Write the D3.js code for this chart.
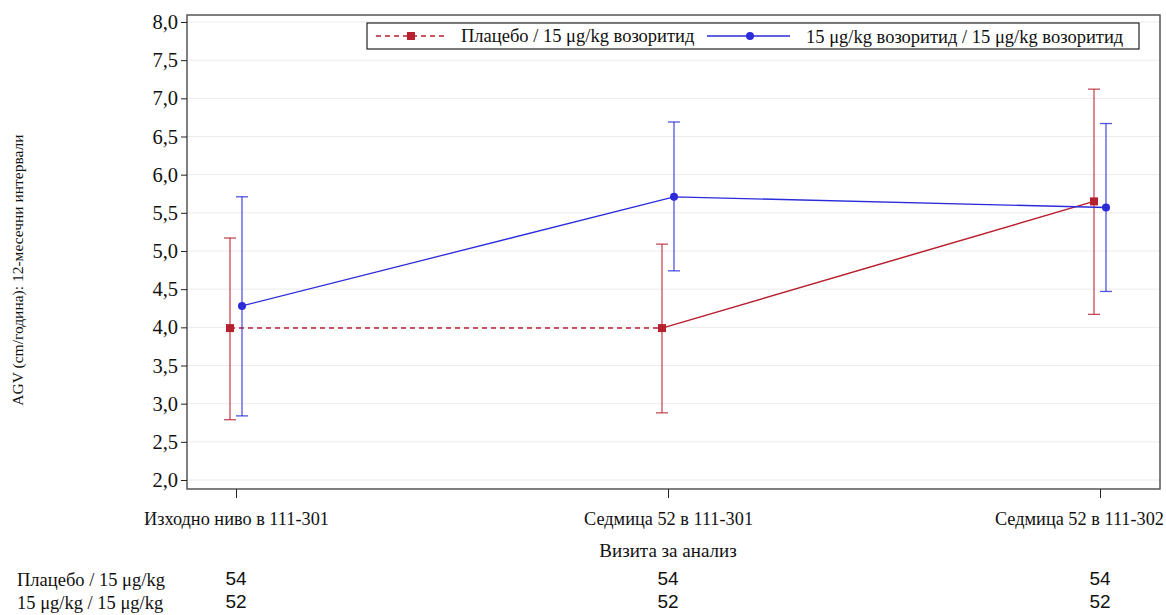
<!DOCTYPE html>
<html>
<head>
<meta charset="utf-8">
<script src="https://cdn.jsdelivr.net/npm/d3@7"></script>
<style>
  body { margin: 0; background: #fff; }
  svg { display: block; }
  text { font-family: "Liberation Serif", "DejaVu Serif", serif; fill: #111; }
</style>
</head>
<body>
<svg id="chart" width="1166" height="615"></svg>
<script>
// visits on the x axis
const visits = ["Изходно ниво в 111-301", "Седмица 52 в 111-301", "Седмица 52 в 111-302"]
const yTicks = [2.0, 2.5, 3.0, 3.5, 4.0, 4.5, 5.0, 5.5, 6.0, 6.5, 7.0, 7.5, 8.0]

// placebo / 15 ug/kg
const placeboMean = [3.99, 3.99, 5.65]
const placeboLow = [2.79, 2.88, 4.17]
const placeboHigh = [5.17, 5.09, 7.12]
const placeboN = [54, 54, 54]

// 15 ug/kg / 15 ug/kg
const vosoMean = [4.28, 5.71, 5.57]
const vosoLow = [2.84, 4.74, 4.47]
const vosoHigh = [5.71, 6.69, 6.67]
const vosoN = [52, 52, 52]

const RED = "#b7202e"
const BLUE = "#2b2bd9"
const SERIF = "Liberation Serif"

const svg = d3.select("#chart")
const plotL = 187, plotR = 1160, plotT = 15, plotB = 489

const x = d3.scalePoint().domain(visits).range([236, 1100])
const y = d3.scaleLinear().domain([2, 8]).range([480, 22])

// grid lines
svg.append("g").selectAll("line").data(yTicks).join("line")
    .attr("x1", plotL).attr("x2", plotR)
    .attr("y1", d => y(d)).attr("y2", d => y(d))
    .attr("stroke", "#ebebeb").attr("stroke-width", 1)

// frame
svg.append("rect")
    .attr("x", plotL).attr("y", plotT)
    .attr("width", plotR - plotL).attr("height", plotB - plotT)
    .attr("fill", "none").attr("stroke", "#555").attr("stroke-width", 1.5)

// y axis
const yAxis = d3.axisLeft(y).tickValues(yTicks).tickSize(6).tickPadding(3)
    .tickFormat(d => d3.format(".1f")(d).replace(".", ","))
const gy = svg.append("g").attr("transform", `translate(${plotL},0)`).call(yAxis)
    .attr("font-family", SERIF).attr("font-size", 20)
gy.select(".domain").remove()
gy.selectAll(".tick line").attr("stroke", "#222")
gy.selectAll("text").style("font-family", SERIF).style("font-size", "20.5px").attr("fill", "#111")

// x axis
const xAxis = d3.axisBottom(x).tickSize(9).tickPadding(14)
const gx = svg.append("g").attr("transform", `translate(0,${plotB})`).call(xAxis)
    .attr("font-family", SERIF).attr("font-size", 18)
gx.select(".domain").remove()
gx.selectAll(".tick line").attr("stroke", "#222")
gx.selectAll("text").style("font-family", SERIF).style("font-size", "18.3px").attr("fill", "#111")
// keep the last label inside the picture
gx.selectAll("text").each(function () {
    const b = this.getBBox()
    const tx = +this.parentNode.getAttribute("transform").match(/translate\(([\d.]+)/)[1]
    const over = tx + b.x + b.width - 1164
    if (over > 0) d3.select(this).attr("x", -over)
})

// axis titles
svg.append("text")
    .attr("transform", "translate(23,270) rotate(-90)")
    .attr("text-anchor", "middle")
    .style("font-size", "15.5px")
    .text("AGV (cm/година): 12-месечни интервали")
svg.append("text")
    .attr("x", 668).attr("y", 557).attr("text-anchor", "middle")
    .style("font-size", "19px")
    .text("Визита за анализ")

function drawSeries(mean, low, high, color, dx) {
    const pts = mean.map((m, i) => ({ x: x(visits[i]) + dx, m: m, lo: low[i], hi: high[i] }))
    const g = svg.append("g")
    // error bars
    pts.forEach(p => {
        g.append("line").attr("x1", p.x).attr("x2", p.x).attr("y1", y(p.lo)).attr("y2", y(p.hi))
            .attr("stroke", color).attr("stroke-width", 1.3).attr("opacity", 0.8)
        g.append("line").attr("x1", p.x - 6).attr("x2", p.x + 6).attr("y1", y(p.lo)).attr("y2", y(p.lo))
            .attr("stroke", color).attr("stroke-width", 1.3).attr("opacity", 0.8)
        g.append("line").attr("x1", p.x - 6).attr("x2", p.x + 6).attr("y1", y(p.hi)).attr("y2", y(p.hi))
            .attr("stroke", color).attr("stroke-width", 1.3).attr("opacity", 0.8)
    })
    return { g: g, pts: pts }
}

const line = d3.line().x(d => d.x).y(d => y(d.m))

const red = drawSeries(placeboMean, placeboLow, placeboHigh, RED, -6)
const blue = drawSeries(vosoMean, vosoLow, vosoHigh, BLUE, 6)

// red: dashed first segment, solid second
red.g.append("path").attr("d", line(red.pts.slice(0, 2)))
    .attr("fill", "none").attr("stroke", RED).attr("stroke-width", 1.5).attr("stroke-dasharray", "5,4")
red.g.append("path").attr("d", line(red.pts.slice(1)))
    .attr("fill", "none").attr("stroke", RED).attr("stroke-width", 1.5)
blue.g.append("path").attr("d", line(blue.pts))
    .attr("fill", "none").attr("stroke", BLUE).attr("stroke-width", 1.3)

red.g.selectAll("rect.m").data(red.pts).join("rect").attr("class", "m")
    .attr("x", d => d.x - 4).attr("y", d => y(d.m) - 4).attr("width", 8).attr("height", 8)
    .attr("fill", RED)
blue.g.selectAll("circle").data(blue.pts).join("circle")
    .attr("cx", d => d.x).attr("cy", d => y(d.m)).attr("r", 4)
    .attr("fill", BLUE)

// legend
const lg = svg.append("g")
lg.append("rect").attr("x", 367).attr("y", 23).attr("width", 772).attr("height", 26)
    .attr("fill", "#fff").attr("stroke", "#222").attr("stroke-width", 1.2)
lg.append("line").attr("x1", 376).attr("x2", 445).attr("y1", 36).attr("y2", 36)
    .attr("stroke", RED).attr("stroke-width", 1.5).attr("stroke-dasharray", "5,4")
lg.append("rect").attr("x", 407).attr("y", 32).attr("width", 8).attr("height", 8).attr("fill", RED)
lg.append("text").attr("x", 461).attr("y", 42)
    .style("font-size", "18.5px")
    .text("Плацебо / 15 μg/kg возоритид")
lg.append("line").attr("x1", 707).attr("x2", 790).attr("y1", 36).attr("y2", 36)
    .attr("stroke", BLUE).attr("stroke-width", 1.5)
lg.append("circle").attr("cx", 750).attr("cy", 36).attr("r", 4).attr("fill", BLUE)
lg.append("text").attr("x", 806).attr("y", 43)
    .style("font-size", "18.5px")
    .text("15 μg/kg возоритид / 15 μg/kg возоритид")

// numbers at risk table
const rows = [
    { label: "Плацебо / 15 μg/kg", n: placeboN, y: 586 },
    { label: "15 μg/kg / 15 μg/kg", n: vosoN, y: 609 }
]
rows.forEach(r => {
    svg.append("text").attr("x", 17).attr("y", r.y)
        .style("font-size", "18.5px")
        .text(r.label)
    svg.append("g").selectAll("text").data(r.n).join("text")
        .attr("x", (d, i) => x(visits[i])).attr("y", r.y - 1)
        .attr("text-anchor", "middle")
        .style("font-family", "Liberation Sans").style("font-size", "19px")
        .text(d => d)
})
</script>
</body>
</html>
